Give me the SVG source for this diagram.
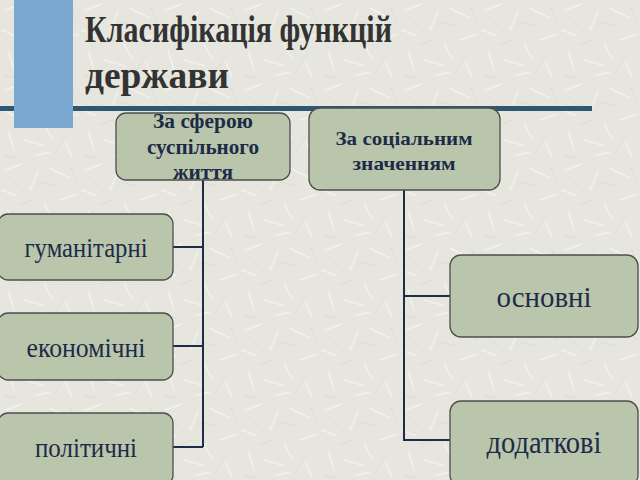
<svg xmlns="http://www.w3.org/2000/svg" width="640" height="480" viewBox="0 0 640 480">
<defs>
<pattern id="tex" width="80" height="80" patternUnits="userSpaceOnUse">
<rect width="80" height="80" fill="#e6e6de"/>
<g stroke="#f2f2ec" stroke-width="1.5" stroke-linecap="round">
<path d="M5 10 L22 4 M30 30 L38 12 M50 8 L70 18 M60 40 L78 34 M8 50 L14 70 M25 60 L45 66 M44 44 L52 58 M66 62 L72 78 M2 30 L16 36 M34 76 L50 72"/>
</g>
<g stroke="#dcdcd3" stroke-width="1" stroke-linecap="round">
<path d="M12 20 L20 28 M40 22 L56 26 M70 6 L76 20 M20 44 L34 40 M56 70 L64 60 M4 76 L18 78"/>
</g>
</pattern>
<style>
.box{fill:#b9c6ab;stroke:#4d4d4d;stroke-width:1.3}
.ser{font-family:"Liberation Serif","DejaVu Serif","Times New Roman",serif}
.hd{font-weight:bold;fill:#1d2b48;text-anchor:middle}
.lf{fill:#1d2b48;text-anchor:middle}
.con{fill:none;stroke:#1c2c4a;stroke-width:2}
</style>
</defs>
<rect width="640" height="480" fill="url(#tex)"/>
<rect x="14" y="0" width="59" height="128" fill="#7ba8d0"/>
<rect x="0" y="106" width="592" height="5" fill="#2f5870"/>
<rect x="14" y="106" width="59" height="5" fill="#7ba8d0"/>
<g id="title">
<text class="ser" x="85" y="42" font-weight="bold" font-size="37" fill="#333" textLength="307" lengthAdjust="spacingAndGlyphs">Класифікація функцій</text>
<text class="ser" x="85" y="88" font-weight="bold" font-size="37" fill="#333" textLength="144" lengthAdjust="spacingAndGlyphs">держави</text>
</g>
<g id="connectors">
<path class="con" d="M203 180 V447 M173 247 H203 M173 346 H203 M173 447 H203"/>
<path class="con" d="M404 190 V440 H450 M404 296 H450"/>
</g>
<g id="sphere">
<rect class="box" x="116" y="113" width="174" height="67" rx="10"/>
<text class="ser hd" font-size="20" x="203" y="128" textLength="100" lengthAdjust="spacingAndGlyphs">За сферою</text>
<text class="ser hd" font-size="20" x="203" y="154" textLength="112" lengthAdjust="spacingAndGlyphs">суспільного</text>
<text class="ser hd" font-size="20" x="203" y="179" textLength="60" lengthAdjust="spacingAndGlyphs">життя</text>
</g>
<g id="social">
<rect class="box" x="309" y="108" width="191" height="82" rx="11"/>
<text class="ser hd" font-size="19" x="404" y="145" textLength="137" lengthAdjust="spacingAndGlyphs">За соціальним</text>
<text class="ser hd" font-size="19" x="404" y="170" textLength="103" lengthAdjust="spacingAndGlyphs">значенням</text>
</g>
<g id="humanitarian">
<rect class="box" x="-2" y="214" width="175" height="66" rx="10"/>
<text class="ser lf" font-size="28" x="86" y="257" textLength="123" lengthAdjust="spacingAndGlyphs">гуманітарні</text>
</g>
<g id="economic">
<rect class="box" x="-2" y="313" width="175" height="67" rx="10"/>
<text class="ser lf" font-size="28" x="86" y="357" textLength="119" lengthAdjust="spacingAndGlyphs">економічні</text>
</g>
<g id="political">
<rect class="box" x="-2" y="413" width="175" height="72" rx="10"/>
<text class="ser lf" font-size="28" x="86" y="457" textLength="102" lengthAdjust="spacingAndGlyphs">політичні</text>
</g>
<g id="basic">
<rect class="box" x="450" y="255" width="188" height="82" rx="11"/>
<text class="ser lf" font-size="29" x="544" y="307" textLength="95" lengthAdjust="spacingAndGlyphs">основні</text>
</g>
<g id="additional">
<rect class="box" x="450" y="401" width="188" height="85" rx="11"/>
<text class="ser lf" font-size="32" x="544" y="453" textLength="115" lengthAdjust="spacingAndGlyphs">додаткові</text>
</g>
</svg>
